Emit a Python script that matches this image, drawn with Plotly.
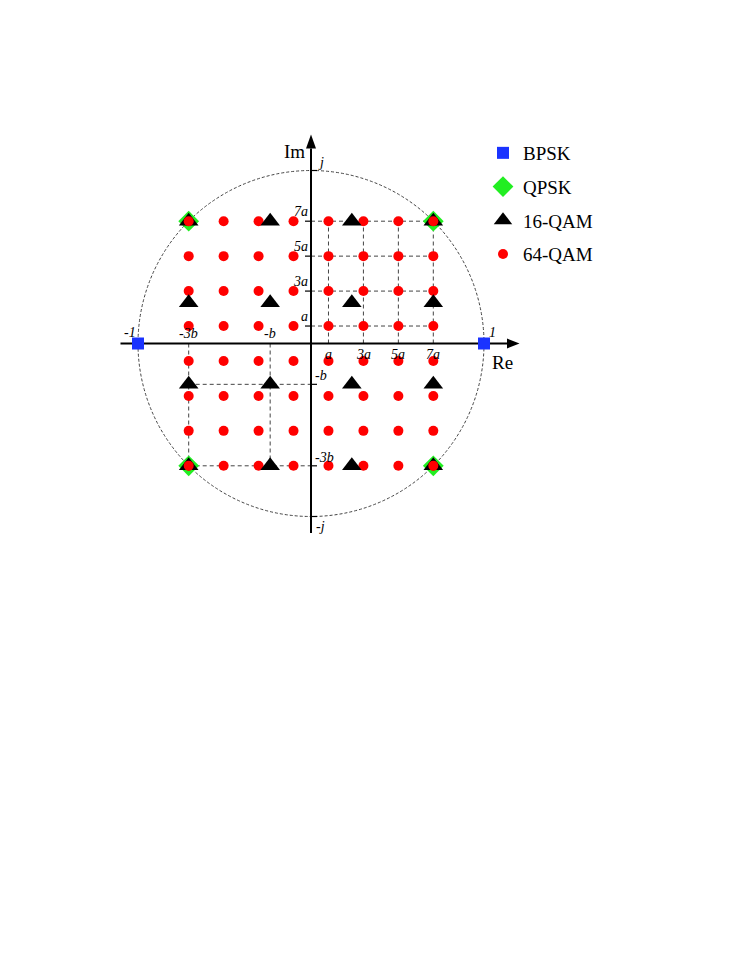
import plotly.graph_objects as go

# constellation levels (normalised units, |BPSK| = 1)
bpsk_levels = [-1.0, 1.0]
qpsk_levels = [-0.707, 0.707]
qam16_levels = [-0.707, -0.236, 0.236, 0.707]
qam64_levels = [-0.707, -0.505, -0.303, -0.101, 0.101, 0.303, 0.505, 0.707]

# axis tick labels
y_pos_labels = ["<i>a</i>", "<i>3a</i>", "<i>5a</i>", "<i>7a</i>"]
y_neg_labels = ["<i>-3b</i>", "<i>-b</i>"]

SERIF = "Liberation Serif"


def grid(levels):
    xs, ys = [], []
    for yv in levels:
        for xv in levels:
            xs.append(xv)
            ys.append(yv)
    return xs, ys


def main():
    fig = go.Figure()

    # pixel mapping inside the figure (page body adds an 8 px margin)
    off = 8
    cx, cy, unit = 311.0 - off, 343.5 - off, 173.0
    W, H = 747, 967
    xr = [-cx / unit, (W - cx) / unit]
    yr = [-(H - cy) / unit, cy / unit]
    px = 1.0 / unit

    def X(p):  # page pixel -> data x
        return (p - off - cx) * px

    def Y(p):  # page pixel -> data y
        return (cy - (p - off)) * px

    shapes = []
    dash_grid = dict(color="#444444", width=1, dash="4px,3px")

    # unit circle
    shapes.append(dict(type="circle", x0=-1, x1=1, y0=-1, y1=1, layer="below",
                       line=dict(color="#444444", width=1, dash="3px,2px")))

    # dashed guide lines, first quadrant (64-QAM)
    pos64 = [v for v in qam64_levels if v > 0]
    top64 = max(pos64)
    for v in pos64:
        shapes.append(dict(type="line", x0=0, x1=top64, y0=v, y1=v, layer="below", line=dash_grid))
        shapes.append(dict(type="line", x0=v, x1=v, y0=0, y1=top64, layer="below", line=dash_grid))

    # dashed guide lines, third quadrant (16-QAM)
    neg16 = [v for v in qam16_levels if v < 0]
    low16 = min(neg16)
    for v in neg16:
        shapes.append(dict(type="line", x0=low16, x1=0, y0=v, y1=v, layer="below", line=dash_grid))
        shapes.append(dict(type="line", x0=v, x1=v, y0=0, y1=low16, layer="below", line=dash_grid))

    # axes with arrowheads
    ax_line = dict(color="black", width=2)
    x_start, x_base, x_tip = X(120.5), X(507), X(519.5)
    y_bot, y_base, y_tip = Y(533), Y(148.5), Y(134.5)
    hw = 5 * px
    shapes.append(dict(type="line", x0=x_start, x1=x_base, y0=0, y1=0, layer="below", line=ax_line))
    shapes.append(dict(type="line", x0=0, x1=0, y0=y_bot, y1=y_base, layer="below", line=ax_line))
    shapes.append(dict(type="path", layer="below", fillcolor="black", line=dict(width=0),
                       path=f"M {x_base},{hw} L {x_tip},0 L {x_base},{-hw} Z"))
    shapes.append(dict(type="path", layer="below", fillcolor="black", line=dict(width=0),
                       path=f"M {-hw},{y_base} L 0,{y_tip} L {hw},{y_base} Z"))

    # small ticks
    tick = dict(color="black", width=1.2)
    for v in pos64:
        shapes.append(dict(type="line", x0=-6 * px, x1=0, y0=v, y1=v, layer="below", line=tick))
    for v in neg16 + [1.0, -1.0]:
        shapes.append(dict(type="line", x0=0, x1=6 * px, y0=v, y1=v, layer="below", line=tick))

    # markers
    qx, qy = grid(qpsk_levels)
    fig.add_trace(go.Scatter(x=bpsk_levels, y=[0, 0], mode="markers", name="BPSK",
                             legendgroup="a", legendrank=1,
                             marker=dict(symbol="square", size=12, color="#1a33ff")))
    fig.add_trace(go.Scatter(x=qx, y=qy, mode="markers", name="QPSK", legendgroup="b",
                             legendrank=2,
                             marker=dict(symbol="diamond", size=16, color="#22ee22")))
    x64, y64 = grid(qam64_levels)
    fig.add_trace(go.Scatter(x=x64, y=y64, mode="markers", name="64-QAM", legendgroup="d",
                             legendrank=4,
                             marker=dict(symbol="circle", size=10, color="#ff0000")))
    x16, y16 = grid(qam16_levels)
    fig.add_trace(go.Scatter(x=x16, y=y16, mode="markers", name="16-QAM", legendgroup="c",
                             legendrank=3,
                             marker=dict(symbol="triangle-up", size=17, color="black")))
    # corner 64-QAM points drawn on top of the coincident triangles
    corner = [(x, y) for x, y in zip(x64, y64) if abs(x) == top64 and abs(y) == top64]
    fig.add_trace(go.Scatter(x=[c[0] for c in corner], y=[c[1] for c in corner],
                             mode="markers", showlegend=False,
                             marker=dict(symbol="circle", size=10, color="#ff0000")))

    # text labels
    ann = []
    lab_font = dict(family=SERIF, size=14, color="black")
    for v, t in zip(pos64, y_pos_labels):
        ann.append(dict(x=0, y=v, text=t, xanchor="right", yanchor="bottom",
                        xshift=-1, yshift=0, font=lab_font))
        ann.append(dict(x=v, y=0, text=t, xanchor="center", yanchor="top",
                        yshift=-1, font=lab_font))
    for v, t in zip(neg16, y_neg_labels):
        ann.append(dict(x=0, y=v, text=t, xanchor="left", yanchor="bottom",
                        xshift=2, yshift=-1, font=lab_font))
        ann.append(dict(x=v, y=0, text=t, xanchor="center", yanchor="bottom",
                        yshift=1, font=lab_font))
    ann.append(dict(x=0, y=1, text="<i>j</i>", xanchor="left", yanchor="bottom",
                    xshift=5, yshift=-1, font=lab_font))
    ann.append(dict(x=0, y=-1, text="<i>-j</i>", xanchor="left", yanchor="top",
                    xshift=3, yshift=0, font=lab_font))
    ann.append(dict(x=-1, y=0, text="<i>-1</i>", xanchor="right", yanchor="bottom",
                    xshift=0, yshift=2, font=lab_font))
    ann.append(dict(x=1, y=0, text="<i>1</i>", xanchor="left", yanchor="bottom",
                    xshift=3, yshift=2, font=lab_font))
    big_font = dict(family=SERIF, size=19, color="black")
    ann.append(dict(x=x_tip, y=0, text="Re", xanchor="right", yanchor="top",
                    xshift=-5, yshift=-6, font=big_font))
    ann.append(dict(x=0, y=y_tip, text="Im", xanchor="right", yanchor="top",
                    xshift=-4, yshift=-4, font=big_font))
    for a in ann:
        a["showarrow"] = False
        a["xref"] = "x"
        a["yref"] = "y"

    fig.update_layout(
        width=W, height=H,
        margin=dict(l=0, r=0, t=0, b=0),
        paper_bgcolor="white", plot_bgcolor="white",
        xaxis=dict(range=xr, visible=False, fixedrange=True),
        yaxis=dict(range=yr, visible=False, fixedrange=True),
        shapes=shapes,
        annotations=ann,
        showlegend=True,
        legend=dict(x=(483 - off) / W, y=1 - (134 - off) / H, xanchor="left", yanchor="top",
                    font=dict(family=SERIF, size=19, color="black"),
                    tracegroupgap=6, bgcolor="rgba(0,0,0,0)"),
    )

    fig.write_html("out.html")


if __name__ == "__main__":
    main()
